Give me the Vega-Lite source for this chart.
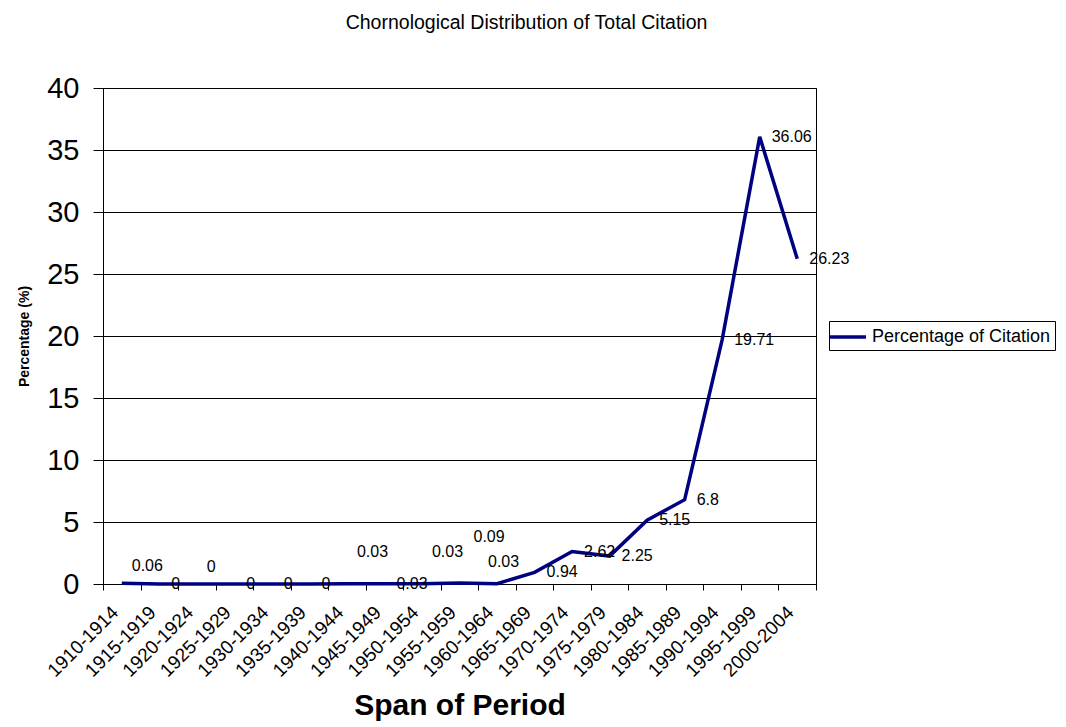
{
  "$schema": "https://vega.github.io/schema/vega-lite/v6.json",
  "width": 713,
  "height": 496,
  "autosize": "none",
  "padding": {"left": 103, "top": 88, "right": 250, "bottom": 143},
  "background": "white",
  "config": {
    "font": "Liberation Sans",
    "view": {"stroke": "#000", "strokeWidth": 1},
    "axis": {"labelFont": "Liberation Sans", "titleFont": "Liberation Sans", "labelColor": "#000", "titleColor": "#000"}
  },
  "title": {
    "text": "Chornological Distribution of Total Citation",
    "font": "Liberation Sans",
    "fontSize": 19.5,
    "fontWeight": "normal",
    "color": "#000",
    "anchor": "middle",
    "dx": 67,
    "offset": 41
  },
  "data": {
    "values": [
      {"period": "1910-1914", "value": 0.06},
      {"period": "1915-1919", "value": 0},
      {"period": "1920-1924", "value": 0},
      {"period": "1925-1929", "value": 0},
      {"period": "1930-1934", "value": 0},
      {"period": "1935-1939", "value": 0},
      {"period": "1940-1944", "value": 0.03},
      {"period": "1945-1949", "value": 0.03},
      {"period": "1950-1954", "value": 0.03},
      {"period": "1955-1959", "value": 0.09},
      {"period": "1960-1964", "value": 0.03},
      {"period": "1965-1969", "value": 0.94},
      {"period": "1970-1974", "value": 2.62},
      {"period": "1975-1979", "value": 2.25},
      {"period": "1980-1984", "value": 5.15},
      {"period": "1985-1989", "value": 6.8},
      {"period": "1990-1994", "value": 19.71},
      {"period": "1995-1999", "value": 36.06},
      {"period": "2000-2004", "value": 26.23}
    ]
  },
  "encoding": {
    "x": {
      "field": "period",
      "type": "ordinal",
      "sort": null,
      "scale": {"type": "band", "paddingInner": 0, "paddingOuter": 0},
      "axis": {
        "title": "Span of Period",
        "titleFontSize": 30,
        "titleFontWeight": "bold",
        "titleY": 121,
        "titleBaseline": "middle",
        "labelAngle": -45,
        "labelAlign": "right",
        "labelBaseline": "middle",
        "labelFontSize": 19,
        "labelPadding": 19,
        "labelOffset": -7,
        "tickBand": "extent",
        "tickSize": 6,
        "tickColor": "#000",
        "domainColor": "#000",
        "grid": false
      }
    },
    "y": {
      "field": "value",
      "type": "quantitative",
      "scale": {"domain": [0, 40], "nice": false},
      "axis": {
        "title": "Percentage (%)",
        "titleFontSize": 14,
        "titleFontWeight": "bold",
        "titleX": -79,
        "titleY": 248,
        "titleAngle": -90,
        "titleAlign": "center",
        "titleBaseline": "middle",
        "values": [0, 5, 10, 15, 20, 25, 30, 35, 40],
        "labelFontSize": 29,
        "labelPadding": 14,
        "tickSize": 10,
        "tickColor": "#000",
        "domainColor": "#000",
        "grid": true,
        "gridColor": "#000",
        "gridOpacity": 1
      }
    }
  },
  "layer": [
    {
      "mark": {"type": "line", "strokeWidth": 3.5},
      "encoding": {
        "color": {
          "datum": "Percentage of Citation",
          "type": "nominal",
          "scale": {"domain": ["Percentage of Citation"], "range": ["#000080"]},
          "legend": {
            "title": null,
            "orient": "none",
            "legendX": 726,
            "legendY": 233,
            "strokeColor": "#000",
            "fillColor": "#fff",
            "padding": 4,
            "symbolType": "M-1.5,0H2.1",
            "symbolSize": 400,
            "symbolStrokeWidth": 3.5,
            "symbolOffset": 0,
            "labelFontSize": 18,
            "labelLimit": 0,
            "labelFont": "Liberation Sans",
            "labelColor": "#000",
            "labelOffset": 15,
            "cornerRadius": 0
          }
        }
      }
    },
    {
      "transform": [{"filter": {"not": {"field": "period", "oneOf": ["1910-1914", "1920-1924", "1940-1944", "1950-1954", "1955-1959", "1960-1964"]}}}],
      "mark": {"type": "text", "align": "left", "baseline": "middle", "dx": 12, "fontSize": 16, "color": "#000"},
      "encoding": {"text": {"field": "value", "type": "quantitative"}}
    },
    {
      "transform": [{"filter": {"field": "period", "oneOf": ["1910-1914", "1920-1924"]}}],
      "mark": {"type": "text", "align": "left", "baseline": "middle", "dx": 10, "dy": -17, "fontSize": 16, "color": "#000"},
      "encoding": {"text": {"field": "value", "type": "quantitative"}}
    },
    {
      "transform": [{"filter": {"field": "period", "oneOf": ["1940-1944", "1950-1954"]}}],
      "mark": {"type": "text", "align": "left", "baseline": "middle", "dx": 10, "dy": -32, "fontSize": 16, "color": "#000"},
      "encoding": {"text": {"field": "value", "type": "quantitative"}}
    },
    {
      "transform": [{"filter": {"field": "period", "oneOf": ["1955-1959"]}}],
      "mark": {"type": "text", "align": "left", "baseline": "middle", "dx": 14, "dy": -46, "fontSize": 16, "color": "#000"},
      "encoding": {"text": {"field": "value", "type": "quantitative"}}
    },
    {
      "transform": [{"filter": {"field": "period", "oneOf": ["1960-1964"]}}],
      "mark": {"type": "text", "align": "left", "baseline": "middle", "dx": -9, "dy": -22, "fontSize": 16, "color": "#000"},
      "encoding": {"text": {"field": "value", "type": "quantitative"}}
    }
  ]
}
